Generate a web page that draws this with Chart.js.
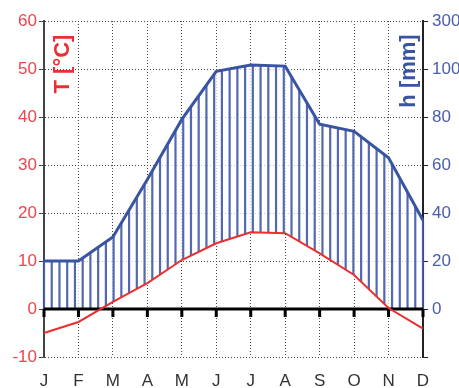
<!DOCTYPE html>
<html>
<head>
<meta charset="utf-8">
<script src="https://cdn.jsdelivr.net/npm/chart.js@4"></script>
<style>
  html, body { margin: 0; padding: 0; background: #fff; }
  #wrap { width: 459px; height: 388px; }
</style>
</head>
<body>
<div id="wrap"><canvas id="klima"></canvas></div>
<script>
const months = ['J', 'F', 'M', 'A', 'M', 'J', 'J', 'A', 'S', 'O', 'N', 'D'];
const temperature = [-5.0, -2.7, 1.5, 5.4, 10.2, 13.7, 16.0, 15.8, 11.6, 7.1, 0.2, -4.1];
const precipitation = [20, 20, 30, 54, 79, 99, 117, 112, 77, 74, 63, 37];

// Walter-Lieth: above 100 mm the scale is compressed 1:10
const mmToAxis = h => h <= 100 ? h : 100 + (h - 100) / 10;
const axisToMm = v => v <= 100 ? v : 100 + (v - 100) * 10;

const FONT = 'Liberation Sans, Arial, sans-serif';
const RED = '#ea2f30';
const RED_TXT = '#f0434c';
const BLUE = '#3a54a4';
const BLUE_TXT = '#4a5da8';

function yAt(pts, x) {
    for (let i = 0; i < pts.length - 1; i++) {
        const a = pts[i], b = pts[i + 1];
        if (x >= a.x && x <= b.x) {
            const f = (x - a.x) / (b.x - a.x);
            return a.y + f * (b.y - a.y);
        }
    }
    return pts[pts.length - 1].y;
}

const hatch = {
    id: 'hatch',
    beforeDatasetsDraw(chart) {
        const {ctx, chartArea, scales} = chart;
        const t = chart.getDatasetMeta(0).data;
        const p = chart.getDatasetMeta(1).data;
        const y0 = scales.y.getPixelForValue(0);
        const left = chartArea.left, right = chartArea.right;

        // pale wash in the humid area
        ctx.save();
        ctx.beginPath();
        for (let x = left; x <= right; x++) ctx.lineTo(x, yAt(p, x));
        for (let x = right; x >= left; x--) ctx.lineTo(x, Math.min(yAt(t, x), y0));
        ctx.closePath();
        ctx.fillStyle = 'rgba(255,255,255,0.7)';
        ctx.fill();

        // vertical hatch lines
        const n = 49;
        const step = (right - left) / n;
        ctx.strokeStyle = 'rgba(58,84,164,0.88)';
        ctx.lineWidth = 2.2;
        for (let i = 0; i <= n; i++) {
            const x = left + i * step;
            const top = yAt(p, x);
            const bot = Math.min(yAt(t, x), y0);
            if (top < bot) {
                ctx.beginPath();
                ctx.moveTo(x, top);
                ctx.lineTo(x, bot);
                ctx.stroke();
            }
        }

        // zero line with month ticks
        ctx.strokeStyle = '#000';
        ctx.lineWidth = 3;
        ctx.beginPath();
        ctx.moveTo(left, y0);
        ctx.lineTo(right, y0);
        ctx.stroke();
        ctx.fillStyle = '#000';
        scales.x.ticks.forEach((tk, i) => {
            const x = scales.x.getPixelForTick(i);
            ctx.fillRect(x - 1.5, y0, 3, 8);
        });
        ctx.restore();
    },
    afterDraw(chart) {
        const {ctx} = chart;
        ctx.save();
        ctx.font = 'bold 22px ' + FONT;
        ctx.textAlign = 'center';
        ctx.textBaseline = 'middle';
        ctx.fillStyle = RED;
        ctx.translate(63, 64);
        ctx.rotate(-Math.PI / 2);
        ctx.fillText('T [°C]', 0, 0);
        ctx.restore();

        ctx.save();
        ctx.font = 'bold 22px ' + FONT;
        ctx.textAlign = 'center';
        ctx.textBaseline = 'middle';
        ctx.fillStyle = BLUE;
        ctx.translate(409, 71);
        ctx.rotate(-Math.PI / 2);
        ctx.fillText('h [mm]', 0, 0);
        ctx.restore();
    }
};

new Chart(document.getElementById('klima'), {
    type: 'line',
    data: {
        labels: months,
        datasets: [{
            label: 'T',
            data: temperature,
            yAxisID: 'y',
            borderColor: RED,
            borderWidth: 2,
            pointRadius: 0,
            tension: 0
        }, {
            label: 'h',
            data: precipitation.map(mmToAxis),
            yAxisID: 'y2',
            borderColor: BLUE,
            borderWidth: 3,
            pointRadius: 0,
            tension: 0
        }]
    },
    options: {
        responsive: true,
        maintainAspectRatio: false,
        animation: false,
        layout: { padding: { top: 21, left: 0, right: 0, bottom: 0 } },
        plugins: { legend: { display: false }, tooltip: { enabled: false } },
        scales: {
            x: {
                offset: false,
                grid: { color: '#444', drawTicks: false },
                border: { display: false, dash: [1, 2] },
                ticks: { color: '#333', font: { family: FONT, size: 17 }, padding: 14, maxRotation: 0, autoSkip: false },
                afterFit: s => { s.height = 31; }
            },
            y: {
                position: 'left',
                min: -10,
                max: 60,
                grid: { color: '#444', tickLength: 5, tickColor: '#444' },
                border: { color: '#444', width: 2, dash: [1, 2] },
                ticks: { stepSize: 10, color: RED_TXT, font: { family: FONT, size: 17 }, padding: 2 },
                afterFit: s => { s.width = 44; }
            },
            y2: {
                position: 'right',
                min: -20,
                max: 120,
                grid: { drawOnChartArea: false, tickLength: 5, color: '#222', tickColor: '#222' },
                border: { color: '#222', width: 2 },
                ticks: {
                    stepSize: 20,
                    color: BLUE_TXT,
                    font: { family: FONT, size: 17 },
                    padding: 4,
                    callback: v => v < 0 ? '' : String(axisToMm(v))
                },
                afterFit: s => { s.width = 36; }
            }
        }
    },
    plugins: [hatch]
});
</script>
</body>
</html>
